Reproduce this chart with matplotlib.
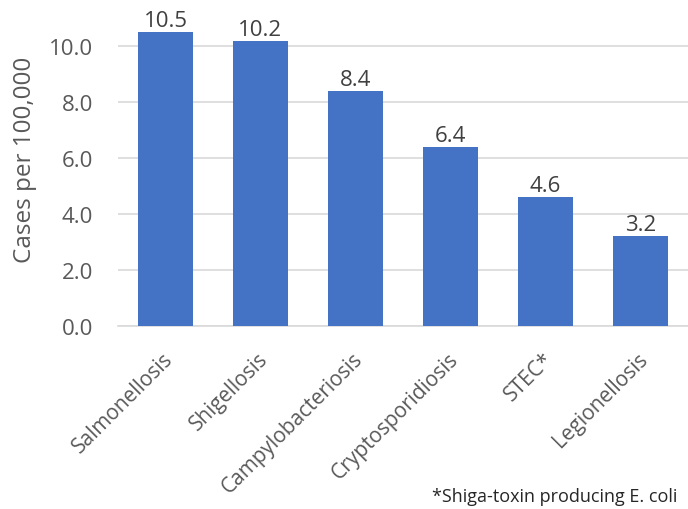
import numpy as np
import matplotlib.pyplot as plt
import matplotlib.transforms as mtransforms

categories = ["Salmonellosis", "Shigellosis", "Campylobacteriosis",
              "Cryptosporidiosis", "STEC*", "Legionellosis"]
rates = [10.5, 10.2, 8.4, 6.4, 4.6, 3.2]
yticks = [0.0, 2.0, 4.0, 6.0, 8.0, 10.0]

plt.rcParams["font.family"] = ["Open Sans", "DejaVu Sans"]
TXT = "#595959"

fig = plt.figure(figsize=(6.88, 5.10), dpi=100)
ax = fig.add_axes([118 / 688, 183.3 / 510, 570 / 688, 293.4 / 510])

x = np.arange(len(categories))
ax.bar(x, rates, width=0.58, color="#4472C4", zorder=3)
for xi, v in zip(x, rates):
    ax.text(xi, v + 0.03, f"{v:.1f}", ha="center", va="bottom",
            fontsize=16, color="#404040")

ax.set_xlim(-0.5, len(categories) - 0.5)
ax.set_ylim(0, 10.5)
ax.set_yticks(yticks)
ax.set_yticklabels([f"{t:.1f}" for t in yticks], fontsize=16, color=TXT)
ax.yaxis.grid(True, color="#D9D9D9", linewidth=1.2, zorder=0)
ax.set_xticks(x)
ax.set_xticklabels(categories, rotation=45, ha="right", rotation_mode="anchor",
                   fontsize=15, color=TXT)
ax.tick_params(axis="y", length=0, pad=18)
ax.tick_params(axis="x", length=0, pad=16)
shift = mtransforms.ScaledTranslation(-3 / 100, 0, fig.dpi_scale_trans)
for lab in ax.get_xticklabels():
    lab.set_transform(lab.get_transform() + shift)
for s in ["top", "right", "left"]:
    ax.spines[s].set_visible(False)
ax.spines["bottom"].set_color("#D9D9D9")
ax.spines["bottom"].set_linewidth(1.2)
ax.set_ylabel("Cases per 100,000", fontsize=17.5, color=TXT)
ax.yaxis.set_label_coords(-0.142, 0.57)

fig.text(677 / 688, 1 - 497 / 510, "*Shiga-toxin producing E. coli",
         ha="right", va="center", fontsize=13, color="#262626")

fig.savefig("out.png", dpi=100)
